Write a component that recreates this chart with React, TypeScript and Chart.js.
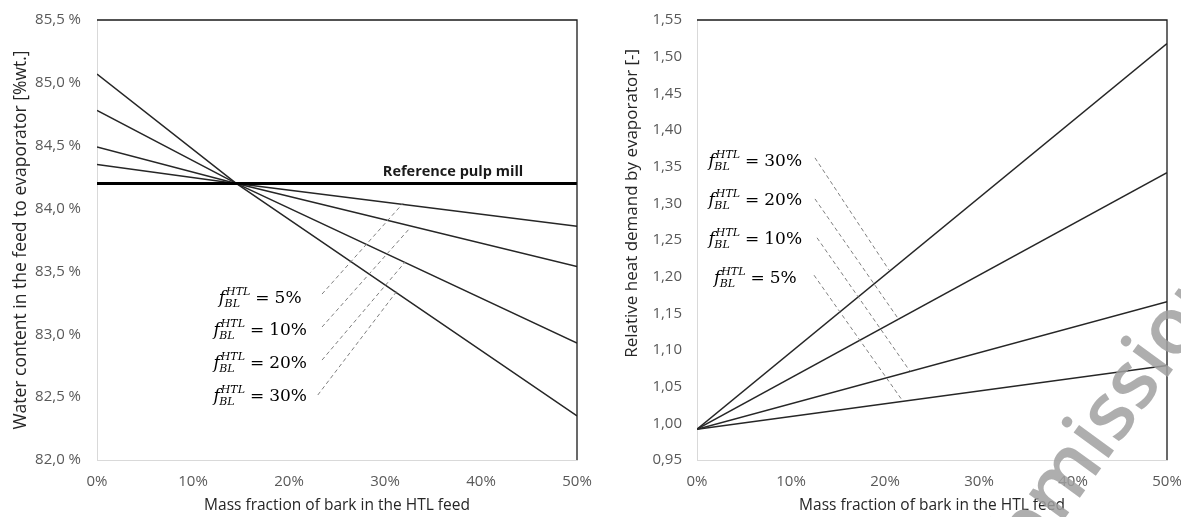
import React, { useEffect, useRef } from "react";
import { Chart, registerables } from "chart.js";

Chart.register(...registerables);

// ---------- data ----------
const xTickStep = 10;
const leftX = [0, 14.5, 50];
const leftF5 = [84.35, 84.2, 83.86];
const leftF10 = [84.49, 84.2, 83.54];
const leftF20 = [84.78, 84.2, 82.93];
const leftF30 = [85.07, 84.2, 82.35];
const refX = [0, 50];
const refY = [84.2, 84.2];

const rightX = [0, 50];
const rightF5 = [0.992, 1.079];
const rightF10 = [0.992, 1.166];
const rightF20 = [0.992, 1.342];
const rightF30 = [0.992, 1.518];

const fractionLabels = ["5%", "10%", "20%", "30%"];

// ---------- annotation placement (data units) ----------
const leftLabelX = 17;
const leftLabelY = [83.3, 83.04, 82.78, 82.52];
const leftLeaders = [
  [23.44, 83.32, 31.9, 84.044],
  [23.44, 83.058, 32.6, 83.845],
  [23.44, 82.795, 32.1, 83.575],
  [23.0, 82.517, 31.25, 83.344],
];
const rightLabelX = 6.2;
const rightLabelY = [1.2, 1.253, 1.306, 1.359];
const rightLeaders = [
  [12.45, 1.202, 21.8, 1.032],
  [12.77, 1.253, 22.66, 1.071],
  [12.55, 1.306, 21.5, 1.141],
  [12.55, 1.362, 20.43, 1.209],
];

const FONT = "'Open Sans', 'Noto Sans', sans-serif";
const MATH = "'DejaVu Serif', 'Liberation Serif', serif";

function drawMath(ctx: CanvasRenderingContext2D, cx: number, cy: number, val: string) {
  const main = 17;
  const sc = 11;
  ctx.save();
  ctx.fillStyle = "#000";
  ctx.textBaseline = "alphabetic";
  ctx.textAlign = "left";
  ctx.font = `italic ${main}px ${MATH}`;
  const wf = ctx.measureText("f").width;
  ctx.font = `italic ${sc}px ${MATH}`;
  const wsup = ctx.measureText("HTL").width;
  const wsub = ctx.measureText("BL").width;
  const ws = Math.max(wsup, wsub);
  ctx.font = `${main}px ${MATH}`;
  const weq = ctx.measureText("=").width;
  const wv = ctx.measureText(val).width;
  const gap = 5;
  const total = wf + 1 + ws + gap + weq + gap + wv;
  let x = cx - total / 2;
  const base = cy + 6;
  ctx.font = `italic ${main}px ${MATH}`;
  ctx.fillText("f", x, base);
  x += wf + 1;
  ctx.font = `italic ${sc}px ${MATH}`;
  ctx.fillText("HTL", x, base - 8);
  ctx.fillText("BL", x - 1.5, base + 4);
  x += ws + gap;
  ctx.font = `${main}px ${MATH}`;
  ctx.fillText("=", x, base);
  x += weq + gap;
  ctx.fillText(val, x, base);
  ctx.restore();
}

function overlayPlugin(kind: "left" | "right") {
  return {
    id: "overlay_" + kind,
    afterDatasetsDraw(chart: any) {
      const ctx: CanvasRenderingContext2D = chart.ctx;
      const xs = chart.scales.x;
      const ys = chart.scales.y;
      const leaders = kind === "left" ? leftLeaders : rightLeaders;
      const labX = kind === "left" ? leftLabelX : rightLabelX;
      const labY = kind === "left" ? leftLabelY : rightLabelY;
      ctx.save();
      ctx.strokeStyle = "#7f7f7f";
      ctx.lineWidth = 1;
      ctx.setLineDash([4, 3]);
      leaders.forEach((l) => {
        ctx.beginPath();
        ctx.moveTo(xs.getPixelForValue(l[0]), ys.getPixelForValue(l[1]));
        ctx.lineTo(xs.getPixelForValue(l[2]), ys.getPixelForValue(l[3]));
        ctx.stroke();
      });
      ctx.restore();
      fractionLabels.forEach((f, i) => {
        drawMath(ctx, xs.getPixelForValue(labX), ys.getPixelForValue(labY[i]), f);
      });
      if (kind === "left") {
        ctx.save();
        ctx.font = `bold 14.5px ${FONT}`;
        ctx.fillStyle = "#1a1a1a";
        ctx.textAlign = "right";
        ctx.textBaseline = "middle";
        ctx.fillText("Reference pulp mill", xs.getPixelForValue(44.4), ys.getPixelForValue(84.29));
        ctx.restore();
      } else {
        // y-axis title (placed off-centre as in the original)
        ctx.save();
        ctx.translate(chart.chartArea.left - 65, ys.getPixelForValue(1.3));
        ctx.rotate(-Math.PI / 2);
        ctx.font = `17px ${FONT}`;
        ctx.fillStyle = "#262626";
        ctx.textAlign = "center";
        ctx.textBaseline = "middle";
        ctx.fillText("Relative heat demand by evaporator [-]", 0, 0);
        ctx.restore();
      }
    },
    afterDraw(chart: any) {
      const ctx: CanvasRenderingContext2D = chart.ctx;
      const a = chart.chartArea;
      ctx.save();
      ctx.strokeStyle = "#1a1a1a";
      ctx.lineWidth = 1.3;
      ctx.beginPath();
      ctx.moveTo(a.left, a.top);
      ctx.lineTo(a.right, a.top);
      ctx.lineTo(a.right, a.bottom);
      ctx.stroke();
      ctx.restore();
      if (kind === "right") {
        ctx.save();
        ctx.translate(470, 525);
        ctx.rotate((-54 * Math.PI) / 180);
        ctx.font = `600 80px ${FONT}`;
        ctx.fillStyle = "rgba(160,160,160,0.85)";
        ctx.textBaseline = "alphabetic";
        ctx.textAlign = "left";
        const off = ctx.measureText("Sub").width;
        ctx.fillText("Submission", -off, 0);
        ctx.restore();
      }
    },
  };
}

function xScale() {
  return {
    type: "linear",
    min: 0,
    max: 50,
    grid: { display: false, drawTicks: false },
    border: { display: true, color: "#d9d9d9", width: 1 },
    ticks: {
      stepSize: xTickStep,
      padding: 13,
      color: "#595959",
      font: { family: FONT, size: 15 },
      callback: (v: any) => `${v}%`,
    },
    title: {
      display: true,
      text: "Mass fraction of bark in the HTL feed",
      color: "#262626",
      font: { family: FONT, size: 15.5 },
      padding: 2,
    },
    afterFit: (s: any) => {
      s.height = 57;
      s.paddingLeft = 0;
      s.paddingRight = 0;
    },
  };
}

function lineDs(xv: number[], yv: number[], width = 1.5, color = "#262626") {
  return {
    data: xv.map((x, i) => ({ x, y: yv[i] })),
    borderColor: color,
    borderWidth: width,
    pointRadius: 0,
    fill: false,
    tension: 0,
  };
}

function leftConfig(): any {
  return {
    type: "line",
    data: {
      datasets: [
        lineDs(refX, refY, 3, "#000"),
        lineDs(leftX, leftF5),
        lineDs(leftX, leftF10),
        lineDs(leftX, leftF20),
        lineDs(leftX, leftF30),
      ],
    },
    options: {
      responsive: false,
      animation: false,
      layout: { padding: { top: 20, right: 23, left: 0, bottom: 0 } },
      plugins: { legend: { display: false }, tooltip: { enabled: false } },
      scales: {
        x: xScale(),
        y: {
          type: "linear",
          min: 82,
          max: 85.5,
          grid: { display: false, drawTicks: false },
          border: { display: true, color: "#d9d9d9", width: 1 },
          ticks: {
            stepSize: 0.5,
            padding: 16,
            color: "#595959",
            font: { family: FONT, size: 15 },
            callback: (v: any) => Number(v).toFixed(1).replace(".", ",") + " %",
          },
          title: {
            display: true,
            text: "Water content in the feed to evaporator [%wt.]",
            color: "#262626",
            font: { family: FONT, size: 17.5 },
            padding: 11,
          },
          afterFit: (s: any) => {
            s.width = 97;
            s.paddingTop = 0;
            s.paddingBottom = 0;
          },
        },
      },
    },
    plugins: [overlayPlugin("left")],
  };
}

function rightConfig(): any {
  return {
    type: "line",
    data: {
      datasets: [
        lineDs(rightX, rightF5),
        lineDs(rightX, rightF10),
        lineDs(rightX, rightF20),
        lineDs(rightX, rightF30),
      ],
    },
    options: {
      responsive: false,
      animation: false,
      layout: { padding: { top: 20, right: 14, left: 0, bottom: 0 } },
      plugins: { legend: { display: false }, tooltip: { enabled: false } },
      scales: {
        x: xScale(),
        y: {
          type: "linear",
          min: 0.95,
          max: 1.55,
          grid: { display: false, drawTicks: false },
          border: { display: true, color: "#d9d9d9", width: 1 },
          ticks: {
            stepSize: 0.05,
            padding: 15,
            color: "#595959",
            font: { family: FONT, size: 15 },
            callback: (v: any) => Number(v).toFixed(2).replace(".", ","),
          },
          title: { display: false },
          afterFit: (s: any) => {
            s.width = 107;
            s.paddingTop = 0;
            s.paddingBottom = 0;
          },
        },
      },
    },
    plugins: [overlayPlugin("right")],
  };
}

export default function App() {
  const leftRef = useRef<HTMLCanvasElement>(null);
  const rightRef = useRef<HTMLCanvasElement>(null);
  useEffect(() => {
    const l = new Chart(leftRef.current as HTMLCanvasElement, leftConfig());
    const r = new Chart(rightRef.current as HTMLCanvasElement, rightConfig());
    return () => {
      l.destroy();
      r.destroy();
    };
  }, []);
  return (
    <div style={{ position: "fixed", left: 0, top: 0, width: 1181, height: 517, background: "#fff", overflow: "hidden" }}>
      <canvas ref={leftRef} width={600} height={517} style={{ position: "absolute", left: 0, top: 0, width: 600, height: 517 }} />
      <canvas ref={rightRef} width={591} height={517} style={{ position: "absolute", left: 590, top: 0, width: 591, height: 517 }} />
    </div>
  );
}
